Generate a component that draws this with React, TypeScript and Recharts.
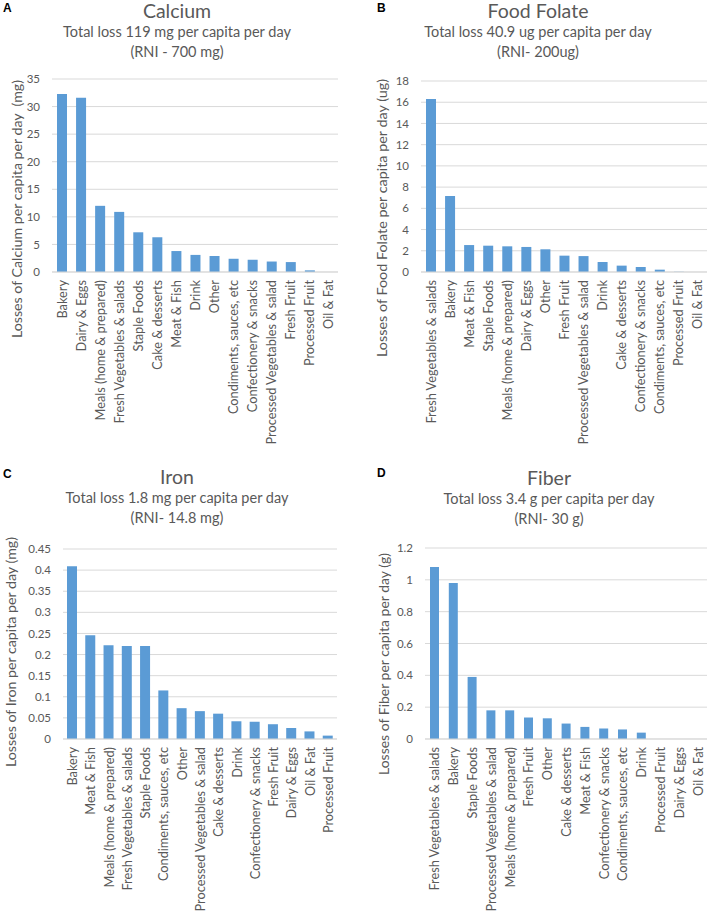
import React from "react";
import { BarChart, Bar, XAxis, YAxis, CartesianGrid } from "recharts";

const categoriesA = ["Bakery", "Dairy & Eggs", "Meals (home & prepared)", "Fresh Vegetables & salads", "Staple Foods", "Cake & desserts", "Meat & Fish", "Drink", "Other", "Condiments, sauces, etc", "Confectionery & snacks", "Processed Vegetables & salad", "Fresh Fruit", "Processed Fruit", "Oil & Fat"];
const valuesA = [32.3, 31.6, 12.0, 10.9, 7.2, 6.3, 3.8, 3.1, 2.9, 2.4, 2.2, 1.9, 1.8, 0.3, 0];
const ticksA = [0, 5, 10, 15, 20, 25, 30, 35];

const categoriesB = ["Fresh Vegetables & salads", "Bakery", "Meat & Fish", "Staple Foods", "Meals (home & prepared)", "Dairy & Eggs", "Other", "Fresh Fruit", "Processed Vegetables & salad", "Drink", "Cake & desserts", "Confectionery & snacks", "Condiments, sauces, etc", "Processed Fruit", "Oil & Fat"];
const valuesB = [16.3, 7.16, 2.54, 2.48, 2.42, 2.36, 2.14, 1.54, 1.5, 0.94, 0.6, 0.47, 0.22, 0.02, 0];
const ticksB = [0, 2, 4, 6, 8, 10, 12, 14, 16, 18];

const categoriesC = ["Bakery", "Meat & Fish", "Meals (home & prepared)", "Fresh Vegetables & salads", "Staple Foods", "Condiments, sauces, etc", "Other", "Processed Vegetables & salad", "Cake & desserts", "Drink", "Confectionery & snacks", "Fresh Fruit", "Dairy & Eggs", "Oil & Fat", "Processed Fruit"];
const valuesC = [0.409, 0.246, 0.222, 0.22, 0.22, 0.115, 0.073, 0.066, 0.06, 0.042, 0.041, 0.035, 0.026, 0.018, 0.008];
const ticksC = [0, 0.05, 0.1, 0.15, 0.2, 0.25, 0.3, 0.35, 0.4, 0.45];

const categoriesD = ["Fresh Vegetables & salads", "Bakery", "Staple Foods", "Processed Vegetables & salad", "Meals (home & prepared)", "Fresh Fruit", "Other", "Cake & desserts", "Meat & Fish", "Confectionery & snacks", "Condiments, sauces, etc", "Drink", "Processed Fruit", "Dairy & Eggs", "Oil & Fat"];
const valuesD = [1.08, 0.98, 0.39, 0.18, 0.18, 0.135, 0.13, 0.097, 0.076, 0.066, 0.06, 0.04, 0, 0, 0];
const ticksD = [0, 0.2, 0.4, 0.6, 0.8, 1, 1.2];

const FONT = "Lato, 'Liberation Sans', sans-serif";
const GRAY = "#595959";
const BAR = "#5b9bd5";
const GRID = "#d9d9d9";

const build = (cats: string[], vals: number[]) => cats.map((c, i) => ({ name: c, value: vals[i] }));

const XTick = (props: any) => {
  const { x, y, payload } = props;
  return (
    <text x={x} y={y} transform={`rotate(-90 ${x} ${y})`} textAnchor="end" dominantBaseline="central" fontSize={12.75} fill={GRAY} fontFamily={FONT}>
      {payload.value}
    </text>
  );
};

const fmt = (v: number) => String(Math.round(v * 1000) / 1000);

type PanelProps = {
  left: number; top: number; chartH: number; letter: string; title: string; sub1: string; sub2: string;
  cats: string[]; vals: number[]; ticks: number[]; max: number;
  plotTop: number; plotBottom: number; yWidth: number; right: number; barSize: number;
  axisTitle: string; axisX: number; axisY: number; axisLen: number;
  titleX: number; titleY: number; letterX: number; letterY: number;
};

const Panel = (p: PanelProps) => {
  const H = p.chartH;
  return (
    <div style={{ position: "absolute", left: p.left, top: p.top, width: 354, height: H }}>
      <BarChart width={354} height={H} data={build(p.cats, p.vals)} margin={{ top: p.plotTop, right: p.right, bottom: 0, left: 0 }} barSize={p.barSize}>
        <CartesianGrid vertical={false} stroke={GRID} strokeWidth={1} />
        <XAxis dataKey="name" interval={0} tickLine={false} axisLine={{ stroke: GRID }} tickSize={0} tickMargin={8} height={H - p.plotBottom} tick={<XTick />} />
        <YAxis width={p.yWidth} domain={[0, p.max]} ticks={p.ticks} tickFormatter={fmt} axisLine={false} tickLine={false} tickSize={0} tickMargin={12} tick={{ fontSize: 11.5, fill: GRAY, fontFamily: FONT }} interval={0} />
        <Bar dataKey="value" fill={BAR} isAnimationActive={false} />
      </BarChart>
      <div style={{ position: "absolute", left: p.letterX, top: p.letterY, fontFamily: "'Liberation Sans', Arial, sans-serif", fontWeight: "bold", fontSize: 12, color: "#000", lineHeight: "12px" }}>{p.letter}</div>
      <div style={{ position: "absolute", left: p.titleX, top: p.titleY, transform: "translateX(-50%)", textAlign: "center", fontFamily: FONT, color: GRAY, whiteSpace: "nowrap" }}>
        <div style={{ fontSize: 19.5, lineHeight: "22px" }}>{p.title}</div>
        <div style={{ fontSize: 14.5, lineHeight: "20px" }}>{p.sub1}</div>
        <div style={{ fontSize: 14.5, lineHeight: "19px" }}>{p.sub2}</div>
      </div>
      <svg style={{ position: "absolute", left: 0, top: 0 }} width={40} height={450}>
        <text x={p.axisX} y={p.axisY} transform={`rotate(-90 ${p.axisX} ${p.axisY})`} textAnchor="middle" dominantBaseline="central" fontSize={14} fill={GRAY} fontFamily={FONT} textLength={p.axisLen} lengthAdjust="spacingAndGlyphs" style={{ whiteSpace: "pre" }}>
          {p.axisTitle}
        </text>
      </svg>
    </div>
  );
};

export default function App() {
  return (
    <div style={{ position: "absolute", left: 0, top: 0, width: 708, height: 913, background: "#fff", overflow: "hidden" }}>
      <Panel left={0} top={0} chartH={450} letter="A" title="Calcium" sub1="Total loss 119 mg per capita per day" sub2="(RNI - 700 mg)"
        cats={categoriesA} vals={valuesA} ticks={ticksA} max={35} plotTop={79} plotBottom={272} yWidth={52} right={16} barSize={10}
        axisTitle="Losses of Calcium per capita per day  (mg)" axisX={16} axisY={209} axisLen={258} titleX={177} titleY={0} letterX={3} letterY={2} />
      <Panel left={354} top={0} chartH={450} letter="B" title="Food Folate" sub1="Total loss 40.9 ug per capita per day" sub2="(RNI- 200ug)"
        cats={categoriesB} vals={valuesB} ticks={ticksB} max={18} plotTop={81} plotBottom={272} yWidth={67} right={1} barSize={10}
        axisTitle="Losses of Food Folate per capita per day (ug)" axisX={27} axisY={218} axisLen={278} titleX={184} titleY={0} letterX={23} letterY={2} />
      <Panel left={0} top={450} chartH={463} letter="C" title="Iron" sub1="Total loss 1.8 mg per capita per day" sub2="(RNI- 14.8 mg)"
        cats={categoriesC} vals={valuesC} ticks={ticksC} max={0.45} plotTop={99} plotBottom={289} yWidth={63} right={17} barSize={10}
        axisTitle="Losses of Iron per capita per day (mg)" axisX={10} axisY={202} axisLen={230} titleX={177} titleY={16} letterX={3} letterY={18} />
      <Panel left={354} top={450} chartH={463} letter="D" title="Fiber" sub1="Total loss 3.4 g per capita per day" sub2="(RNI- 30 g)"
        cats={categoriesD} vals={valuesD} ticks={ticksD} max={1.2} plotTop={98} plotBottom={289} yWidth={71} right={1} barSize={9}
        axisTitle="Losses of Fiber per capita per day (g)" axisX={29} axisY={214} axisLen={222} titleX={195} titleY={17} letterX={23} letterY={17} />
    </div>
  );
}
